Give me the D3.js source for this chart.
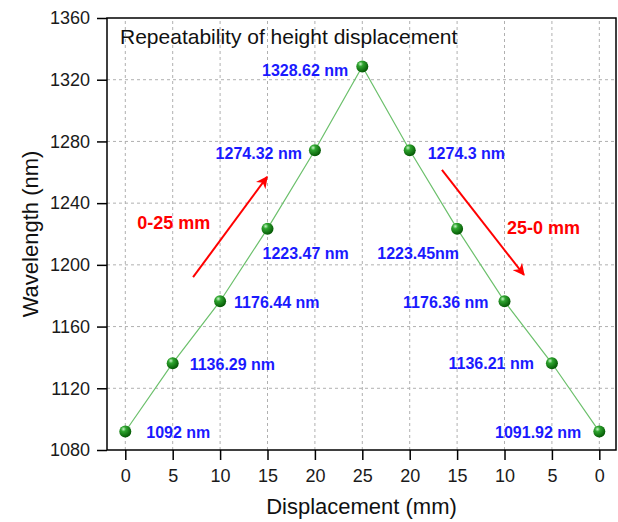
<!DOCTYPE html>
<html>
<head>
<meta charset="utf-8">
<script src="https://cdn.jsdelivr.net/npm/d3@7/dist/d3.min.js"></script>
<style>
  body { margin: 0; background: #fff; }
  text { font-family: Arial, "Liberation Sans", sans-serif; }
</style>
</head>
<body>
<script>
// chart data
const xLabels = ["0", "5", "10", "15", "20", "25", "20", "15", "10", "5", "0"];
const wavelength = [1092, 1136.29, 1176.44, 1223.47, 1274.32, 1328.62, 1274.3, 1223.45, 1176.36, 1136.21, 1091.92];
const valueLabels = ["1092 nm", "1136.29 nm", "1176.44 nm", "1223.47 nm", "1274.32 nm", "1328.62 nm",
                     "1274.3 nm", "1223.45nm", "1176.36 nm", "1136.21 nm", "1091.92 nm"];
const yTicks = [1080, 1120, 1160, 1200, 1240, 1280, 1320, 1360];

// label placement (anchor, dx, dy) relative to each point
const labelPos = [
  ["start", 21, 7], ["start", 17, 7], ["start", 14, 7], ["start", -5, 30],
  ["end", -13, 9], ["end", -14, 10], ["start", 18, 8.5], ["end", 2, 30],
  ["end", -16, 7], ["end", -18, 6], ["end", -18, 6.5]
];

const width = 618, height = 522;
const margin = { top: 18, right: 2, bottom: 72, left: 107 };

const svg = d3.select("body").append("svg")
  .attr("width", width)
  .attr("height", height);

const x = d3.scaleLinear()
  .domain([-0.386, 10.352])
  .range([margin.left, width - margin.right]);

const y = d3.scaleLinear()
  .domain([1080, 1360])
  .range([height - margin.bottom, margin.top]);

const defs = svg.append("defs");
const grad = defs.append("radialGradient")
  .attr("id", "ball")
  .attr("cx", "35%").attr("cy", "30%").attr("r", "70%");
grad.append("stop").attr("offset", "0%").attr("stop-color", "#c8f5c8");
grad.append("stop").attr("offset", "30%").attr("stop-color", "#2fa52f");
grad.append("stop").attr("offset", "100%").attr("stop-color", "#055a05");

defs.append("marker")
  .attr("id", "arrow")
  .attr("viewBox", "0 0 10 10")
  .attr("refX", 9).attr("refY", 5)
  .attr("markerWidth", 6).attr("markerHeight", 6)
  .attr("orient", "auto")
  .append("path")
  .attr("d", "M0,0 L10,5 L0,10 L3,5 z")
  .attr("fill", "#ff0000");

// grid
svg.append("g")
  .selectAll("line.gx")
  .data(d3.range(xLabels.length))
  .join("line")
  .attr("x1", d => x(d)).attr("x2", d => x(d))
  .attr("y1", y(1080)).attr("y2", y(1360))
  .attr("stroke", "#b0b0b0")
  .attr("stroke-dasharray", "3,3");

svg.append("g")
  .selectAll("line.gy")
  .data(yTicks.slice(1, -1))
  .join("line")
  .attr("x1", x.range()[0]).attr("x2", x.range()[1])
  .attr("y1", d => y(d)).attr("y2", d => y(d))
  .attr("stroke", "#b0b0b0")
  .attr("stroke-dasharray", "3,3");

// axes
const xAxis = svg.append("g")
  .attr("transform", `translate(0,${y(1080)})`)
  .call(d3.axisBottom(x).tickValues(d3.range(xLabels.length)).tickFormat(i => xLabels[i])
    .tickSize(10).tickPadding(9).tickSizeOuter(0));

const yAxis = svg.append("g")
  .attr("transform", `translate(${x.range()[0]},0)`)
  .call(d3.axisLeft(y).tickValues(yTicks).tickFormat(d3.format("d"))
    .tickSize(10).tickPadding(7).tickSizeOuter(0));

[xAxis, yAxis].forEach(a => {
  a.select(".domain").remove();
  a.selectAll("line").attr("stroke", "#000").attr("stroke-width", 1.5);
  a.selectAll("text").attr("font-size", 18).attr("fill", "#1a1a1a");
});

// frame
svg.append("rect")
  .attr("x", x.range()[0]).attr("y", y(1360))
  .attr("width", x.range()[1] - x.range()[0])
  .attr("height", y(1080) - y(1360))
  .attr("fill", "none")
  .attr("stroke", "#000")
  .attr("stroke-width", 1.5);

// line
svg.append("path")
  .datum(wavelength)
  .attr("d", d3.line().x((d, i) => x(i)).y(d => y(d)))
  .attr("fill", "none")
  .attr("stroke", "#6cc06c")
  .attr("stroke-width", 1.2);

// points
svg.append("g")
  .selectAll("circle")
  .data(wavelength)
  .join("circle")
  .attr("cx", (d, i) => x(i))
  .attr("cy", d => y(d))
  .attr("r", 6)
  .attr("fill", "url(#ball)");

// value labels
svg.append("g")
  .selectAll("text")
  .data(wavelength)
  .join("text")
  .attr("x", (d, i) => x(i) + labelPos[i][1])
  .attr("y", (d, i) => y(d) + labelPos[i][2])
  .attr("text-anchor", (d, i) => labelPos[i][0])
  .attr("font-size", 16)
  .attr("font-weight", "bold")
  .attr("fill", "#1a1aff")
  .text((d, i) => valueLabels[i]);

// arrows
const arrows = [
  { x1: 1.43, y1: 1192, x2: 2.99, y2: 1257, label: "0-25 mm", lx: 0.25, ly: 1223.5 },
  { x1: 6.68, y1: 1261.5, x2: 8.41, y2: 1193.5, label: "25-0 mm", lx: 8.05, ly: 1220 }
];
svg.append("g")
  .selectAll("line")
  .data(arrows)
  .join("line")
  .attr("x1", d => x(d.x1)).attr("y1", d => y(d.y1))
  .attr("x2", d => x(d.x2)).attr("y2", d => y(d.y2))
  .attr("stroke", "#ff0000")
  .attr("stroke-width", 2)
  .attr("marker-end", "url(#arrow)");

svg.append("g")
  .selectAll("text")
  .data(arrows)
  .join("text")
  .attr("x", d => x(d.lx))
  .attr("y", d => y(d.ly))
  .attr("font-size", 18)
  .attr("font-weight", "bold")
  .attr("fill", "#ff0000")
  .text(d => d.label);

// title
svg.append("text")
  .attr("x", 120)
  .attr("y", 44)
  .attr("font-size", 21)
  .attr("fill", "#111")
  .text("Repeatability of height displacement");

// axis labels
svg.append("text")
  .attr("x", (x.range()[0] + x.range()[1]) / 2)
  .attr("y", 514)
  .attr("text-anchor", "middle")
  .attr("font-size", 22)
  .attr("fill", "#111")
  .text("Displacement (mm)");

svg.append("text")
  .attr("transform", `translate(38,${(y(1080) + y(1360)) / 2}) rotate(-90)`)
  .attr("text-anchor", "middle")
  .attr("font-size", 22)
  .attr("fill", "#111")
  .text("Wavelength (nm)");
</script>
</body>
</html>
